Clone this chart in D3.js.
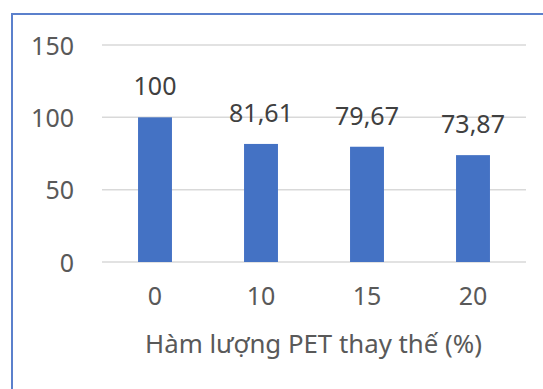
<!DOCTYPE html>
<html>
<head>
<meta charset="utf-8">
<script src="https://cdn.jsdelivr.net/npm/d3@7"></script>
<style>
  html, body { margin: 0; padding: 0; background: #fff; }
  svg { display: block; }
</style>
</head>
<body>
<svg id="chart" width="543" height="389"></svg>
<script>
// PET replacement content (%) and relative values
const categories = ["0", "10", "15", "20"];
const values = [100, 81.61, 79.67, 73.87];
const valueLabels = ["100", "81,61", "79,67", "73,87"];
const yTicks = [0, 50, 100, 150];
const xTitle = "Hàm lượng PET thay thế (%)";

const svg = d3.select("#chart");
const W = 543, H = 389;
const font = "'Noto Sans', 'Open Sans', sans-serif";
const fs = 25;

// Frame
svg.append("rect")
  .attr("x", 12).attr("y", 14)
  .attr("width", W).attr("height", H)
  .attr("fill", "#fff")
  .attr("stroke", "#5b80cc")
  .attr("stroke-width", 2);

const plot = { left: 102, right: 526, top: 45, bottom: 262 };

const x = d3.scaleBand()
  .domain(categories)
  .range([plot.left, plot.right])
  .paddingInner(0.68)
  .paddingOuter(0.34);

const y = d3.scaleLinear()
  .domain([0, 150])
  .range([plot.bottom, plot.top]);

// Gridlines
svg.append("g")
  .selectAll("line")
  .data(yTicks)
  .join("line")
  .attr("x1", plot.left).attr("x2", plot.right)
  .attr("y1", d => y(d)).attr("y2", d => y(d))
  .attr("stroke", "#d9d9d9")
  .attr("stroke-width", 1.5);

// Y axis labels
const yAxis = d3.axisLeft(y).tickValues(yTicks).tickSize(0).tickPadding(0);
const gy = svg.append("g")
  .attr("transform", `translate(74,0)`)
  .call(yAxis);
gy.select(".domain").remove();
gy.selectAll("text")
  .attr("font-family", font)
  .attr("font-size", fs)
  .attr("fill", "#595959")
  .attr("dy", "0.36em");

// Bars
svg.append("g")
  .selectAll("rect")
  .data(values)
  .join("rect")
  .attr("x", (d, i) => x(categories[i]))
  .attr("width", x.bandwidth())
  .attr("y", d => y(d))
  .attr("height", d => y(0) - y(d))
  .attr("fill", "#4472c4");

// Value labels
svg.append("g")
  .selectAll("text")
  .data(values)
  .join("text")
  .attr("x", (d, i) => x(categories[i]) + x.bandwidth() / 2)
  .attr("y", d => y(d) - 22)
  .attr("text-anchor", "middle")
  .attr("font-family", font)
  .attr("font-size", fs)
  .attr("fill", "#404040")
  .text((d, i) => valueLabels[i]);

// X axis labels
const xAxis = d3.axisBottom(x).tickSize(0).tickPadding(0);
const gx = svg.append("g")
  .attr("transform", `translate(0,305)`)
  .call(xAxis);
gx.select(".domain").remove();
gx.selectAll("text")
  .attr("font-family", font)
  .attr("font-size", fs)
  .attr("fill", "#595959")
  .attr("dy", "0");

// X axis title
svg.append("text")
  .attr("x", 313.5)
  .attr("y", 353)
  .attr("text-anchor", "middle")
  .attr("font-family", font)
  .attr("font-size", 25.8)
  .attr("fill", "#595959")
  .text(xTitle);
</script>
</body>
</html>
